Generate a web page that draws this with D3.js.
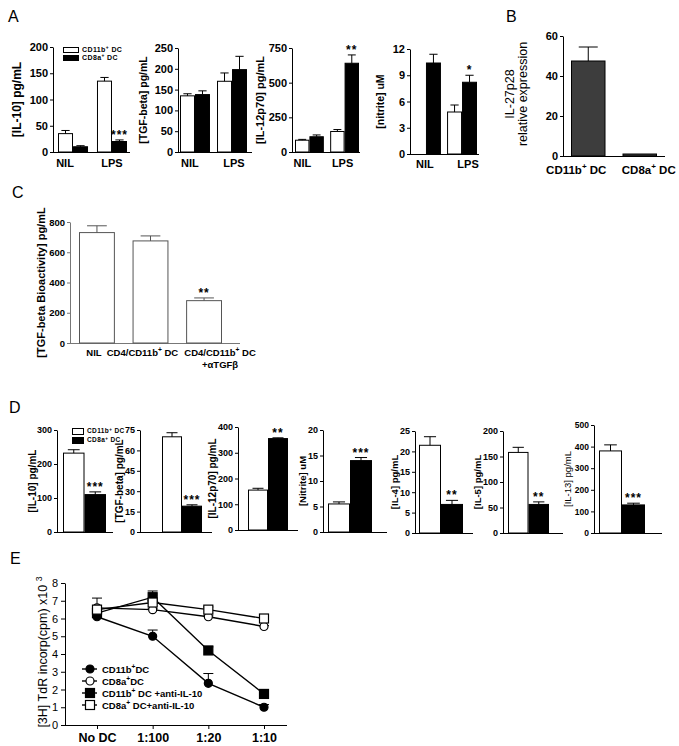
<!DOCTYPE html>
<html><head><meta charset="utf-8">
<script src="https://cdn.jsdelivr.net/npm/d3@7"></script>
<style>body{margin:0;background:#fff}svg{display:block;font-family:"Liberation Sans",Arial,sans-serif}</style>
</head><body><svg id="fig" width="679" height="746"></svg>
<script>
// ---------------- DATA ----------------
// Panel A
const aCats = ["NIL", "LPS"];
const aSeriesNames = ["CD11b⁺ DC", "CD8a⁺ DC"];
const aIL10_cd11b = [35, 135], aIL10_cd11b_sem = [6, 7];
const aIL10_cd8a = [10, 20], aIL10_cd8a_sem = [2, 3];
const aTGF_cd11b = [135, 170], aTGF_cd11b_sem = [5, 20];
const aTGF_cd8a = [138, 198], aTGF_cd8a_sem = [9, 32];
const aIL12_cd11b = [85, 148], aIL12_cd11b_sem = [6, 14];
const aIL12_cd8a = [110, 640], aIL12_cd8a_sem = [13, 60];
const aNit_cd11b = [0, 4.8], aNit_cd11b_sem = [0, 0.8];
const aNit_cd8a = [10.4, 8.2], aNit_cd8a_sem = [1.0, 0.8];
const aStars = [["", "***"], ["", ""], ["", "**"], ["", "*"]];
// Panel B
const bCats = ["CD11b⁺ DC", "CD8a⁺ DC"];
const bVals = [47.5, 1], bSem = [7, 0];
// Panel C
const cCats = ["NIL", "CD4/CD11b⁺ DC", "CD4/CD11b⁺ DC\n+αTGFβ"];
const cVals = [730, 675, 280], cSem = [45, 33, 18];
const cStars = ["", "", "**"];
// Panel D
const dLabels = ["[IL-10] pg/mL", "[TGF-beta] pg/mL", "[IL-12p70] pg/mL", "[Nitrite] uM", "[IL-4] pg/mL", "[IL-5] pg/mL", "[IL-13] pg/mL"];
const dCD11b = [232, 70, 155, 5.5, 21.5, 158, 380];
const dCD11bSem = [10, 3, 7, 0.4, 2.1, 10, 28];
const dCD8a = [110, 19, 355, 14, 7, 56, 130];
const dCD8aSem = [8, 1, 3, 0.6, 1, 5, 8];
const dMax = [300, 75, 400, 20, 25, 200, 500];
const dStep = [100, 15, 100, 5, 5, 50, 100];
const dStars = ["***", "***", "**", "***", "**", "**", "***"];
// Panel E
const eCats = ["No DC", "1:100", "1:20", "1:10"];
const eNames = ["CD11b⁺DC", "CD8a⁺DC", "CD11b⁺ DC +anti-IL-10", "CD8a⁺ DC+anti-IL-10"];
const eCD11b = [6.1, 5.0, 2.35, 1.0], eCD11bSem = [0.1, 0.35, 0.55, 0.15];
const eCD8a = [6.6, 6.5, 6.1, 5.55], eCD8aSem = [0.55, 0.05, 0.05, 0.05];
const eCD11bAnti = [6.3, 7.2, 4.2, 1.75], eCD11bAntiSem = [0.1, 0.35, 0.2, 0.05];
const eCD8aAnti = [6.5, 6.9, 6.5, 6.0], eCD8aAntiSem = [0.1, 0.1, 0.15, 0.1];

// ---------------- HELPERS ----------------
const svg = d3.select("#fig");

function rich(sel, str, fs) {
  const parts = str.split(/([⁺³])/);
  let raised = false;
  parts.forEach(p => {
    if (p === "⁺" || p === "³") {
      sel.append("tspan").attr("dy", -fs * 0.4).attr("font-size", fs * 0.7).text(p === "⁺" ? "+" : "3");
      raised = true;
    } else if (p.length) {
      sel.append("tspan").attr("dy", raised ? fs * 0.4 : 0).text(p);
      raised = false;
    }
  });
  return sel;
}

function panelLetter(t, x, y) {
  svg.append("text").attr("x", x).attr("y", y).attr("font-size", 16).text(t);
}

function barChart(cfg) {
  const g = svg.append("g");
  const axisColor = cfg.axisColor || "#000";
  const y = d3.scaleLinear().domain([0, cfg.max]).range([cfg.bot, cfg.top]);
  const x = d3.scaleBand().domain(cfg.cats).range([cfg.b0, cfg.b1]).paddingInner(cfg.pad).paddingOuter(0);
  const sx = d3.scaleBand().domain(d3.range(cfg.series.length)).range([0, x.bandwidth()]);
  const ya = d3.axisLeft(y).tickValues(d3.range(0, cfg.max + cfg.step * 0.01, cfg.step))
    .tickSize(3).tickSizeOuter(0).tickPadding(2);
  const ag = g.append("g").attr("transform", `translate(${cfg.ax},0)`).call(ya)
    .attr("font-family", null).attr("font-size", cfg.tickFs).attr("font-weight", cfg.tickWeight || "bold");
  ag.select(".domain").attr("stroke", axisColor);
  ag.selectAll(".tick line").attr("stroke", axisColor);
  ag.selectAll(".tick text").attr("fill", "#000");
  g.append("line").attr("x1", cfg.ax).attr("x2", cfg.axEnd).attr("y1", cfg.bot + 0.5).attr("y2", cfg.bot + 0.5)
    .attr("stroke", axisColor);

  cfg.series.forEach((s, si) => {
    const rows = cfg.cats.map((c, i) => ({ c, i, v: s.vals[i], e: s.sems[i] }));
    g.selectAll(null).data(rows.filter(d => d.v > 0)).join("rect")
      .attr("x", d => x(d.c) + sx(si) + 0.5)
      .attr("y", d => y(d.v))
      .attr("width", sx.bandwidth() - 1)
      .attr("height", d => y(0) - y(d.v))
      .attr("fill", s.fill).attr("stroke", cfg.barStroke || "#000").attr("stroke-width", 1);
    const cw = sx.bandwidth() * 0.55;
    const eg = g.selectAll(null).data(rows.filter(d => d.e > 0)).join("g").attr("stroke", cfg.barStroke || "#000");
    eg.append("line").attr("x1", d => x(d.c) + sx(si) + sx.bandwidth() / 2).attr("x2", d => x(d.c) + sx(si) + sx.bandwidth() / 2)
      .attr("y1", d => y(d.v)).attr("y2", d => y(d.v + d.e));
    eg.append("line").attr("x1", d => x(d.c) + sx(si) + sx.bandwidth() / 2 - cw / 2).attr("x2", d => x(d.c) + sx(si) + sx.bandwidth() / 2 + cw / 2)
      .attr("y1", d => y(d.v + d.e)).attr("y2", d => y(d.v + d.e));
    if (si === cfg.series.length - 1 && cfg.stars) {
      g.selectAll(null).data(rows.filter(d => cfg.stars[d.i])).join("text")
        .attr("x", d => x(d.c) + sx(si) + sx.bandwidth() / 2)
        .attr("y", d => y(d.v + d.e) - 1)
        .attr("text-anchor", "middle").attr("font-size", cfg.starFs || 12).attr("font-weight", "bold")
        .attr("letter-spacing", 1)
        .text(d => cfg.stars[d.i]);
    }
  });

  if (cfg.catY) {
    cfg.cats.forEach((c, i) => {
      const lines = c.split("\n");
      lines.forEach((ln, li) => {
        const t = g.append("text").attr("x", x(c) + x.bandwidth() / 2 + (cfg.catOff ? cfg.catOff[i] : 0))
          .attr("y", cfg.catY + li * (cfg.catFs + 2)).attr("text-anchor", "middle")
          .attr("font-size", cfg.catFs).attr("font-weight", "bold");
        rich(t, ln, cfg.catFs);
      });
    });
  }
  const labels = Array.isArray(cfg.label) ? cfg.label : [cfg.label];
  labels.forEach((lb, li) => {
    const lx = Array.isArray(cfg.labelX) ? cfg.labelX[li] : cfg.labelX;
    g.append("text").attr("transform", `translate(${lx},${(cfg.top + cfg.bot) / 2 + (cfg.labelDy || 0)}) rotate(-90)`)
      .attr("text-anchor", "middle").attr("font-size", cfg.labelFs).attr("font-weight", cfg.labelWeight || "bold")
      .text(lb);
  });
  return { x, y, sx };
}

function legend(x, y, names, fs, gap, boxW, boxH) {
  names.forEach((n, i) => {
    svg.append("rect").attr("x", x + 0.5).attr("y", y + i * gap + 0.5).attr("width", boxW).attr("height", boxH)
      .attr("fill", i === 0 ? "#fff" : "#000").attr("stroke", "#000");
    const t = svg.append("text").attr("x", x + boxW + 4).attr("y", y + i * gap + boxH / 2 + fs * 0.35)
      .attr("font-size", fs).attr("font-weight", "bold").attr("letter-spacing", 0.4);
    rich(t, n, fs);
  });
}

// ---------------- PANEL A ----------------
panelLetter("A", 8, 22);
const W = "#fff", K = "#000";
const aCfgBase = { cats: aCats, tickFs: 11, catY: 167, catFs: 11, starFs: 12 };
barChart(Object.assign({}, aCfgBase, {
  ax: 53, axEnd: 130, b0: 58, b1: 127, pad: 0.23, top: 47, bot: 152, max: 200, step: 50, catOff: [-8, 0],
  label: "[IL-10] pg/mL", labelX: 21, labelFs: 12, stars: aStars[0],
  series: [{ vals: aIL10_cd11b, sems: aIL10_cd11b_sem, fill: W }, { vals: aIL10_cd8a, sems: aIL10_cd8a_sem, fill: K }]
}));
legend(63, 47, aSeriesNames, 7, 8, 15, 5);
barChart(Object.assign({}, aCfgBase, {
  ax: 178, axEnd: 252, b0: 180, b1: 247, pad: 0.19, top: 48, bot: 152, max: 250, step: 50, catOff: [-5, 2],
  label: "[TGF-beta] pg/mL", labelX: 147, labelFs: 10.5, stars: aStars[1],
  series: [{ vals: aTGF_cd11b, sems: aTGF_cd11b_sem, fill: W }, { vals: aTGF_cd8a, sems: aTGF_cd8a_sem, fill: K }]
}));
barChart(Object.assign({}, aCfgBase, {
  ax: 292, axEnd: 360, b0: 295, b1: 359, pad: 0.18, top: 48, bot: 152, max: 750, step: 250, catOff: [-7, -2],
  label: "[IL-12p70] pg/mL", labelX: 264, labelFs: 11, stars: aStars[2],
  series: [{ vals: aIL12_cd11b, sems: aIL12_cd11b_sem, fill: W }, { vals: aIL12_cd8a, sems: aIL12_cd8a_sem, fill: K }]
}));
barChart(Object.assign({}, aCfgBase, {
  ax: 410, axEnd: 479, b0: 411, b1: 477, pad: 0.17, top: 49, bot: 154, max: 12, step: 3, catY: 168, catOff: [-1, 6],
  label: "[nitrite] uM", labelX: 384, labelFs: 10.5, stars: aStars[3],
  series: [{ vals: aNit_cd11b, sems: aNit_cd11b_sem, fill: W }, { vals: aNit_cd8a, sems: aNit_cd8a_sem, fill: K }]
}));

// ---------------- PANEL B ----------------
panelLetter("B", 506, 22);
barChart({
  cats: bCats, ax: 563, axEnd: 665, b0: 571, b1: 657, pad: 0.33, top: 36, bot: 156, max: 60, step: 20,
  tickFs: 11, catY: 174, catFs: 11.5, catOff: [-12, 9],
  label: ["IL-27p28", "relative expression"], labelX: [514, 527], labelFs: 12.5, labelWeight: "normal", labelDy: -2,
  series: [{ vals: bVals, sems: bSem, fill: "#3d3d3d" }]
});

// ---------------- PANEL C ----------------
panelLetter("C", 12, 198);
barChart({
  cats: cCats, ax: 70, axEnd: 240, b0: 79, b1: 222, pad: 0.33, top: 222, bot: 343, max: 800, step: 200,
  tickFs: 9.5, catY: 356, catFs: 9.5, catOff: [-3, -8, 16], axisColor: "#777", barStroke: "#555",
  label: "[TGF-beta Bioactivity] pg/mL", labelX: 45, labelFs: 11, stars: cStars, starFs: 12,
  series: [{ vals: cVals, sems: cSem, fill: "#fff" }]
});

// ---------------- PANEL D ----------------
panelLetter("D", 9, 413);
const dLayout = [
  { ax: 57, axEnd: 113, b0: 63, b1: 106, top: 430, bot: 532, labelX: 36, labelFs: 10 },
  { ax: 140, axEnd: 212, b0: 162, b1: 202, top: 430, bot: 532, labelX: 123, labelFs: 10 },
  { ax: 238, axEnd: 298, b0: 248, b1: 288, top: 427, bot: 530, labelX: 216, labelFs: 10 },
  { ax: 323, axEnd: 387, b0: 328, b1: 372, top: 430, bot: 532, labelX: 306, labelFs: 9.5 },
  { ax: 415, axEnd: 473, b0: 419, b1: 463, top: 431, bot: 533, labelX: 398, labelFs: 9.5 },
  { ax: 503, axEnd: 563, b0: 508, b1: 549, top: 431, bot: 533, labelX: 481, labelFs: 9.5 },
  { ax: 594, axEnd: 662, b0: 599, b1: 645, top: 425, bot: 533, labelX: 571, labelFs: 9.5, labelWeight: "normal", tickFs: 8.5 }
];
dLabels.forEach((lb, i) => {
  barChart(Object.assign({ cats: ["g"], pad: 0, max: dMax[i], step: dStep[i], tickFs: 9, label: lb,
    stars: [dStars[i]], starFs: 12,
    series: [{ vals: [dCD11b[i]], sems: [dCD11bSem[i]], fill: W }, { vals: [dCD8a[i]], sems: [dCD8aSem[i]], fill: K }]
  }, dLayout[i]));
});
legend(72, 428, aSeriesNames, 6.5, 9, 11, 6);

// ---------------- PANEL E ----------------
panelLetter("E", 10, 564);
(function () {
  const g = svg.append("g");
  const x = d3.scalePoint().domain(eCats).range([97, 264]);
  const y = d3.scaleLinear().domain([0, 8]).range([725, 583]);
  g.append("g").attr("transform", "translate(65,0)")
    .call(d3.axisLeft(y).ticks(8).tickSize(4).tickSizeOuter(0).tickPadding(3))
    .attr("font-family", null).attr("font-size", 11);
  const xa = g.append("g").attr("transform", "translate(0,725)")
    .call(d3.axisBottom(x).tickSize(4).tickSizeOuter(0).tickPadding(4))
    .attr("font-family", null).attr("font-size", 12.5).attr("font-weight", "bold");
  xa.select(".domain").attr("d", "M65,0.5H287");
  g.append("text").attr("transform", "translate(47,652) rotate(-90)").attr("text-anchor", "middle")
    .attr("font-size", 12.5).call(t => rich(t, "[3H] TdR incorp(cpm) x10 ³", 12.5));

  const series = [
    { name: eNames[0], vals: eCD11b, sems: eCD11bSem, shape: "circle", fill: "#000" },
    { name: eNames[1], vals: eCD8a, sems: eCD8aSem, shape: "circle", fill: "#fff" },
    { name: eNames[2], vals: eCD11bAnti, sems: eCD11bAntiSem, shape: "square", fill: "#000" },
    { name: eNames[3], vals: eCD8aAnti, sems: eCD8aAntiSem, shape: "square", fill: "#fff" }
  ];
  const line = d3.line().x((d, i) => x(eCats[i])).y(d => y(d));
  series.forEach(s => {
    g.append("path").attr("d", line(s.vals)).attr("fill", "none").attr("stroke", "#000").attr("stroke-width", 1.4);
    s.vals.forEach((v, i) => {
      const cx = x(eCats[i]);
      g.append("line").attr("x1", cx).attr("x2", cx).attr("y1", y(v)).attr("y2", y(v + s.sems[i])).attr("stroke", "#000");
      g.append("line").attr("x1", cx - 5).attr("x2", cx + 5).attr("y1", y(v + s.sems[i])).attr("y2", y(v + s.sems[i])).attr("stroke", "#000");
    });
  });
  function marker(sel, shape, fill, cx, cy) {
    if (shape === "circle") sel.append("circle").attr("cx", cx).attr("cy", cy).attr("r", 4).attr("fill", fill).attr("stroke", "#000").attr("stroke-width", 1.2);
    else sel.append("rect").attr("x", cx - 4.5).attr("y", cy - 4.5).attr("width", 9).attr("height", 9).attr("fill", fill).attr("stroke", "#000").attr("stroke-width", 1.2);
  }
  series.forEach(s => s.vals.forEach((v, i) => marker(g, s.shape, s.fill, x(eCats[i]), y(v))));
  series.forEach((s, i) => {
    const ly = 669 + i * 12;
    g.append("line").attr("x1", 82).attr("x2", 97).attr("y1", ly).attr("y2", ly).attr("stroke", "#000").attr("stroke-width", 1.4);
    marker(g, s.shape, s.fill, 90, ly);
    const t = g.append("text").attr("x", 102).attr("y", ly + 3.5).attr("font-size", 9.5).attr("font-weight", "bold");
    rich(t, s.name, 9.5);
  });
})();
</script></body></html>
